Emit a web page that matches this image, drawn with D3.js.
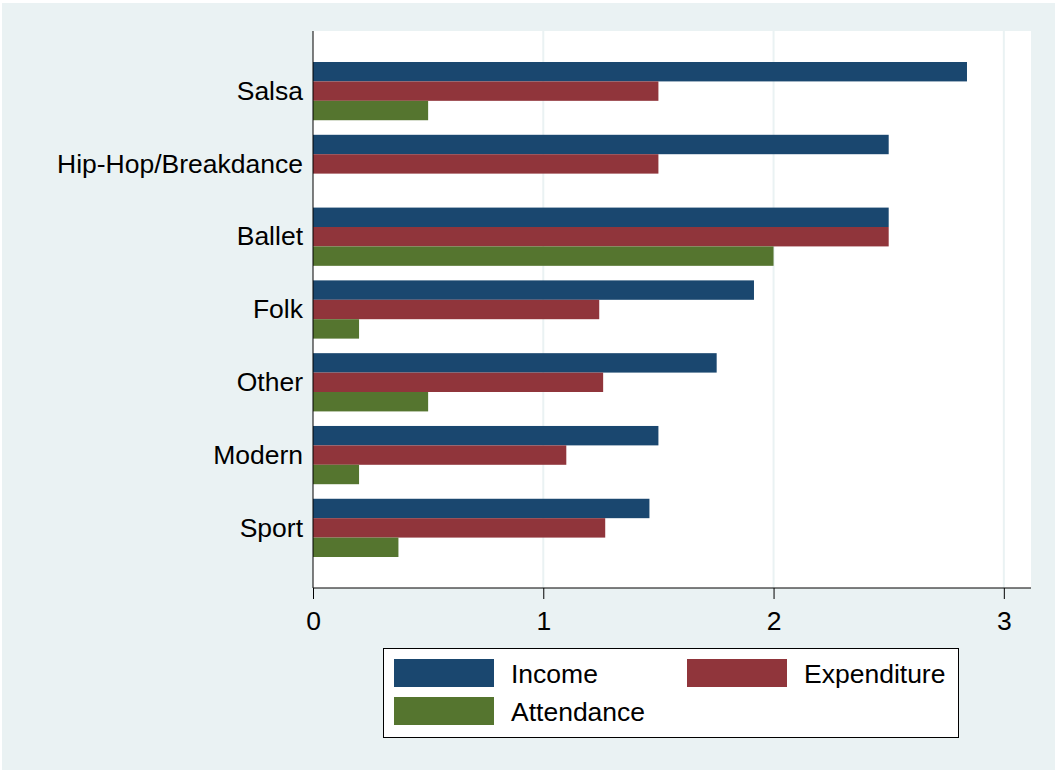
<!DOCTYPE html>
<html><head><meta charset="utf-8">
<script src="https://cdn.jsdelivr.net/npm/d3@7"></script>
<style>body{margin:0;background:#fff}svg{display:block}text{font-family:"Liberation Sans",Arial,sans-serif}</style>
</head><body><svg id="c" width="1057" height="773"></svg>
<script>
const categories = ["Salsa","Hip-Hop/Breakdance","Ballet","Folk","Other","Modern","Sport"];
const seriesNames = ["Income","Expenditure","Attendance"];
const income = [2.84, 2.5, 2.5, 1.915, 1.753, 1.5, 1.461];
const expenditure = [1.5, 1.5, 2.5, 1.243, 1.26, 1.1, 1.269];
const attendance = [0.5, 0, 2.0, 0.2, 0.5, 0.2, 0.371];
const xTicks = [0,1,2,3];
const colors = ["#1a476f","#90353b","#55752f"];

const FS = 26.5;
const svg = d3.select("#c");
const W = 1057, H = 773;
svg.append("rect").attr("x",2).attr("y",3).attr("width",W-4).attr("height",H-6).attr("fill","#eaf2f3");
const L = 313, R = 1031, T = 31, B = 588;
svg.append("rect").attr("x",L).attr("y",T).attr("width",R-L).attr("height",B-T).attr("fill","#fff");

const x = d3.scaleLinear().domain([0, 3.118]).range([L, R]);
const y0 = d3.scaleBand().domain(categories).range([T+31, B-31]).paddingInner(0.2).paddingOuter(0);
const y1 = d3.scaleBand().domain(seriesNames).range([0, y0.bandwidth()]);

// gridlines
svg.append("g").selectAll("line").data(xTicks.filter(d=>d>0)).join("line")
  .attr("x1",d=>x(d)).attr("x2",d=>x(d)).attr("y1",T).attr("y2",B)
  .attr("stroke","#eaf2f3").attr("stroke-width",2);

const data = categories.map((c,i)=>({c, vals:[income[i],expenditure[i],attendance[i]]}));
const g = svg.append("g");
data.forEach(d=>{
  d.vals.forEach((v,j)=>{
    if(v<=0) return;
    g.append("rect").attr("x",x(0)).attr("y",y0(d.c)+y1(seriesNames[j]))
      .attr("width",x(v)-x(0)).attr("height",y1.bandwidth()).attr("fill",colors[j]);
  });
});

// axes
const xa = svg.append("g").attr("transform",`translate(0,${B})`)
  .call(d3.axisBottom(x).tickValues(xTicks).tickSize(11).tickPadding(12).tickFormat(d3.format("d")));
xa.select(".domain").attr("d",`M${L},0H${R}`).attr("stroke","#000");
xa.selectAll(".tick line").attr("stroke","#000");
xa.selectAll("text").attr("font-size",FS).attr("fill","#000").attr("font-family","Liberation Sans, Arial, sans-serif");

const ya = svg.append("g").attr("transform",`translate(${L},0)`)
  .call(d3.axisLeft(y0).tickSize(0).tickPadding(10));
ya.select(".domain").attr("d",`M0,${T}V${B}`).attr("stroke","#000");
ya.selectAll("text").attr("font-size",FS).attr("fill","#000").attr("font-family","Liberation Sans, Arial, sans-serif").attr("dy","0.33em");

// legend
const lg = svg.append("g");
lg.append("rect").attr("x",383.5).attr("y",648.5).attr("width",575).attr("height",89).attr("fill","#fff").attr("stroke","#000").attr("stroke-width",1);
const legPos = [[394,659],[687,659],[394,697]];
seriesNames.forEach((s,j)=>{
  const [lx,ly] = legPos[j];
  lg.append("rect").attr("x",lx).attr("y",ly).attr("width",100).attr("height",28).attr("fill",colors[j]);
  lg.append("text").attr("x",lx+117).attr("y",ly+15).attr("dy","0.35em").attr("font-size",FS).attr("fill","#000").text(s);
});
</script></body></html>
